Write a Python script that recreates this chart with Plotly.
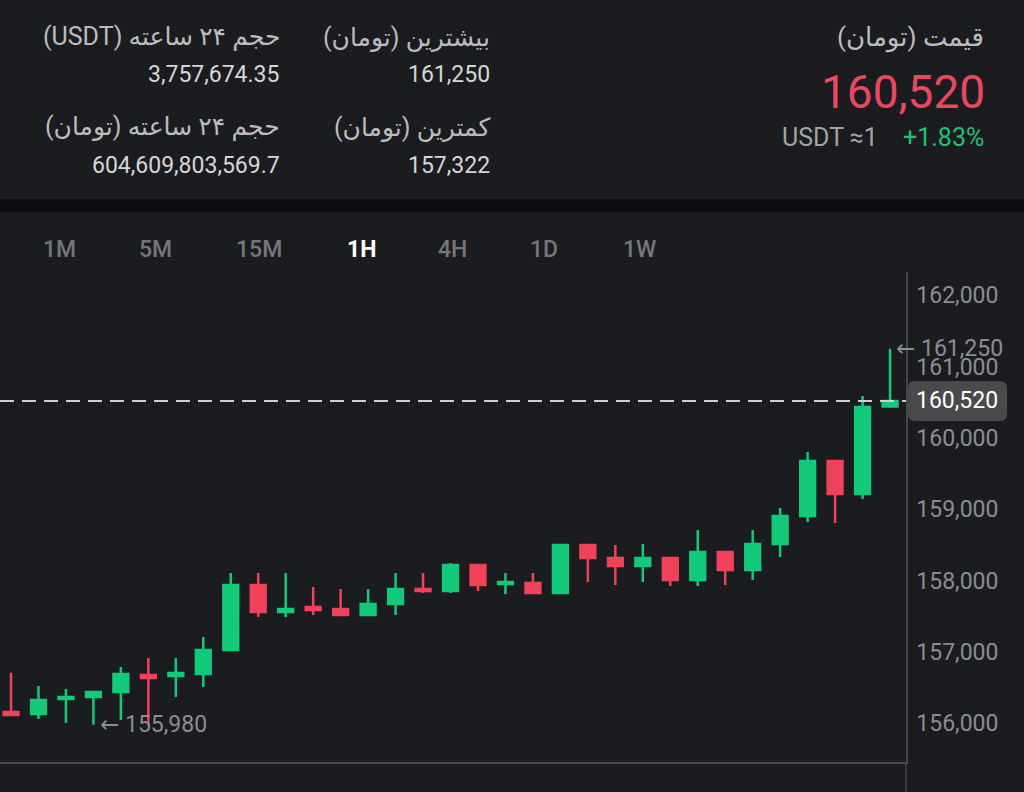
import plotly.graph_objects as go

# ---- data ----
candle_index = list(range(33))
open_ = [156159, 156130, 156341, 156369, 156439, 156677, 156663, 156691, 157028, 157939,
         157561, 157631, 157603, 157519, 157673, 157883, 157855, 158219, 157953, 157967,
         157827, 158500, 158318, 158205, 158318, 158009, 158402, 158149, 158514, 158907,
         159678, 159215, 160440]
high = [156710, 156523, 156481, 156453, 156790, 156916, 156916, 157210, 158107, 158107,
        158107, 157911, 157883, 157883, 158107, 158107, 158247, 158219, 158107, 158107,
        158500, 158500, 158500, 158514, 158318, 158710, 158402, 158710, 159019, 159804,
        159678, 160589, 161250]
low = [156117, 156060, 156004, 155980, 156046, 156004, 156369, 156509, 157014, 157491,
       157491, 157519, 157519, 157519, 157519, 157827, 157827, 157855, 157813, 157827,
       157827, 157981, 157939, 157981, 157925, 157925, 157939, 158009, 158332, 158822,
       158808, 159145, 160440]
close = [156117, 156327, 156369, 156439, 156691, 156635, 156705, 157028, 157939, 157561,
         157603, 157589, 157519, 157673, 157883, 157855, 158219, 157939, 157981, 157827,
         158500, 158318, 158205, 158318, 158009, 158402, 158149, 158514, 158907, 159678,
         159215, 160435, 160520]

y_ticks = [156000, 157000, 158000, 159000, 160000, 161000, 162000]
last_price = 160520
high_24h = 161250
low_marker = 155980
low_marker_index = 3

timeframes = ["1M", "5M", "15M", "1H", "4H", "1D", "1W"]
active_tf = "1H"

header_price_label = "قیمت (تومان)"
header_price = "160,520"
header_usdt = "USDT ≈1"
header_change = "+1.83%"
stat_labels = ["بیشترین (تومان)", "کمترین (تومان)",
               "حجم ۲۴ ساعته (USDT)", "حجم ۲۴ ساعته (تومان)"]
stat_values = ["161,250", "157,322", "3,757,674.35", "604,609,803,569.7"]

# ---- styling ----
BG = "#1b1c1f"
GREEN = "#13c97a"
RED = "#f0435a"
AXIS_GRAY = "#8c8d91"
FONT = "Roboto, DejaVu Sans, sans-serif"

W, H = 1024, 792
L, R, T, B = 0, 118, 272, 30
PW, PH = W - L - R, H - T - B


def px(x):
    return (x - L) / PW


def py(y):
    return (H - B - y) / PH


def rtl(s):
    return "\u202b" + s + "\u202c"


fig = go.Figure()
fig.add_trace(go.Candlestick(
    x=candle_index, open=open_, high=high, low=low, close=close,
    increasing=dict(line=dict(color=GREEN, width=2.5), fillcolor=GREEN),
    decreasing=dict(line=dict(color=RED, width=2.5), fillcolor=RED),
    whiskerwidth=0, hoverinfo="skip", showlegend=False,
))

xmin = -11 / 27.47
xmax = xmin + PW / 27.47
y_per_px = 1000 / 71.33
ymax = 160000 + (438 - T) * y_per_px
ymin = 160000 - (H - B - 438) * y_per_px

shapes = []
annotations = []

# dark separator band
shapes.append(dict(type="rect", xref="paper", yref="paper", x0=px(0), x1=px(W),
                   y0=py(212), y1=py(199), fillcolor="#0d0e12", line=dict(width=0),
                   layer="below"))
# axis line extension to bottom
shapes.append(dict(type="line", xref="paper", yref="paper", x0=1, x1=1,
                   y0=py(H), y1=py(H - B), line=dict(color="#46474b", width=1.5)))
# dashed last price line
shapes.append(dict(type="line", xref="paper", yref="y", x0=0, x1=1,
                   y0=last_price, y1=last_price,
                   line=dict(color="#cfcfcf", width=2, dash="14px,8px")))
# price label box (rounded)
bx0, bx1 = px(908), px(1007)
ly = 438 - (last_price - 160000) / y_per_px
by0, by1 = py(ly + 20), py(ly - 20)
rx, ry = 7 / PW, 7 / PH
path = (f"M {bx0+rx},{by0} L {bx1-rx},{by0} Q {bx1},{by0} {bx1},{by0+ry} "
        f"L {bx1},{by1-ry} Q {bx1},{by1} {bx1-rx},{by1} L {bx0+rx},{by1} "
        f"Q {bx0},{by1} {bx0},{by1-ry} L {bx0},{by0+ry} Q {bx0},{by0} {bx0+rx},{by0} Z")
shapes.append(dict(type="path", xref="paper", yref="paper", path=path,
                   fillcolor="#4a4a4d", line=dict(width=0)))

annotations.append(dict(xref="paper", yref="y", x=px(957), y=last_price,
                        text=f"{last_price:,}", showarrow=False, xanchor="center",
                        yanchor="middle", font=dict(family=FONT, size=23, color="#ffffff")))
annotations.append(dict(xref="paper", yref="y", x=px(894), y=high_24h,
                        text=f"← {high_24h:,}", showarrow=False, xanchor="left",
                        yanchor="middle", font=dict(family=FONT, size=23, color=AXIS_GRAY)))
annotations.append(dict(xref="x", yref="y", x=low_marker_index + 0.15, y=low_marker,
                        text=f"← {low_marker:,}", showarrow=False, xanchor="left",
                        yanchor="middle", font=dict(family=FONT, size=23, color=AXIS_GRAY)))

# timeframe tabs
tab_x = [59, 155, 259, 361, 452, 544, 639]
for tf, tx in zip(timeframes, tab_x):
    active = tf == active_tf
    annotations.append(dict(xref="paper", yref="paper", x=px(tx), y=py(249),
                            text=tf, showarrow=False, xanchor="center", yanchor="middle",
                            font=dict(family=FONT, size=23,
                                      color="#ffffff" if active else "#76777b",
                                      weight=700 if active else 500)))

# header
LABEL_C = "#bcbcbf"
VALUE_C = "#d6d6d8"
annotations.append(dict(xref="paper", yref="paper", x=px(986), y=py(37),
                        text=rtl(header_price_label), showarrow=False, xanchor="right",
                        yanchor="middle", font=dict(family=FONT, size=26, color=LABEL_C)))
annotations.append(dict(xref="paper", yref="paper", x=px(987), y=py(92),
                        text=header_price, showarrow=False, xanchor="right",
                        yanchor="middle", font=dict(family=FONT, size=46, color="#e8495e")))
annotations.append(dict(xref="paper", yref="paper", x=px(986), y=py(137),
                        text=header_change, showarrow=False, xanchor="right",
                        yanchor="middle", font=dict(family=FONT, size=25, color="#22c073")))
annotations.append(dict(xref="paper", yref="paper", x=px(880), y=py(137),
                        text=header_usdt, showarrow=False, xanchor="right",
                        yanchor="middle", font=dict(family=FONT, size=25, color="#a3a3a6")))

stat_pos = [(492, 37, 74), (492, 127, 165), (282, 37, 74), (282, 127, 165)]
for lab, val, (rxp, ly_, vy) in zip(stat_labels, stat_values, stat_pos):
    annotations.append(dict(xref="paper", yref="paper", x=px(rxp), y=py(ly_),
                            text=rtl(lab), showarrow=False, xanchor="right",
                            yanchor="middle", font=dict(family=FONT, size=25, color=LABEL_C)))
    annotations.append(dict(xref="paper", yref="paper", x=px(rxp), y=py(vy),
                            text=val, showarrow=False, xanchor="right",
                            yanchor="middle", font=dict(family=FONT, size=23, color=VALUE_C)))

fig.update_layout(
    width=W, height=H,
    margin=dict(l=L, r=R, t=T, b=B, pad=0),
    paper_bgcolor=BG, plot_bgcolor=BG,
    boxgap=0.23,
    hovermode=False,
    showlegend=False,
    shapes=shapes,
    annotations=annotations,
    xaxis=dict(range=[xmin, xmax], showgrid=False, zeroline=False, showticklabels=False,
               ticks="", showline=True, linecolor="#4a4b4f", linewidth=2,
               rangeslider=dict(visible=False), fixedrange=True),
    yaxis=dict(range=[ymin, ymax], side="right", showgrid=False, zeroline=False,
               tickvals=y_ticks, ticktext=[f"{v:,}" for v in y_ticks],
               tickfont=dict(family=FONT, size=23, color=AXIS_GRAY),
               ticks="", ticklabelstandoff=4,
               showline=True, linecolor="#46474b", linewidth=1.5, fixedrange=True),
)

fig.write_html(
    "out.html",
    config={"displayModeBar": False},
    post_script="document.body.style.margin='0';document.body.style.background='%s';" % BG,
)
